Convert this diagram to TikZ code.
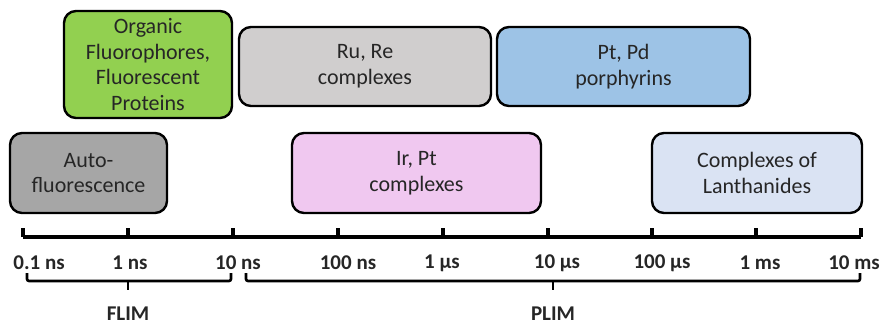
\documentclass[tikz,border=0pt]{standalone}
\usepackage{fontspec}
\setmainfont{Carlito}
\begin{document}
\begin{tikzpicture}[x=1pt,y=-1pt,
  box/.style={draw=black,line width=2.4pt,rounded corners=12pt,align=center,
    font=\fontsize{22}{25.6}\selectfont,text=black!85,inner sep=0pt},
  axis/.style={line width=3.6pt},
  tickmark/.style={line width=3.2pt},
  brace/.style={line width=2.6pt,rounded corners=2pt},
  lbl/.style={font=\fontsize{21}{24}\selectfont\bfseries,text=black!85,inner sep=0pt},
]
\useasboundingbox (0,0) rectangle (884,327);
\definecolor{cgreen}{HTML}{92D050}
\definecolor{cgray}{HTML}{D0CECE}
\definecolor{cblue}{HTML}{9DC3E6}
\definecolor{cdark}{HTML}{A6A6A6}
\definecolor{cpink}{HTML}{F0C8F0}
\definecolor{clan}{HTML}{DAE3F3}

\node[box,fill=cgreen,minimum width=168pt,minimum height=107pt] (org) at (148,64.5) {Organic\\Fluorophores,\\Fluorescent\\Proteins};
\node[box,fill=cgray,minimum width=252pt,minimum height=79pt] (ru) at (365,66.5) {Ru, Re\\complexes};
\node[box,fill=cblue,minimum width=253pt,minimum height=79pt] (pt) at (623.5,66.5) {Pt, Pd\\porphyrins};
\node[box,fill=cdark,minimum width=157pt,minimum height=80pt] (auto) at (88.5,173) {Auto-\\fluorescence};
\node[box,fill=cpink,minimum width=249pt,minimum height=80pt] (ir) at (416.5,173) {Ir, Pt\\complexes};
\node[box,fill=clan,minimum width=210pt,minimum height=80pt] (lan) at (757,173) {Complexes of\\Lanthanides};

% axis
\foreach \i/\x/\lx in {0/23/39,1/128/130,2/233/238,3/338/348,4/443/442,5/548/557,6/652/662,7/756/760,8/861/854}{
  \coordinate (t\i) at (\x,237);
  \coordinate (u\i) at (\x,228);
  \coordinate (v\i) at (\lx,263);
}
\draw[axis] (t0) -- (t8);
\foreach \i in {0,...,8}{ \draw[tickmark] (t\i) -- (u\i); }
\foreach \i/\t in {0/0.1 ns,1/1 ns,2/10 ns,3/100 ns,4/1 µs,5/10 µs,6/100 µs,7/1 ms,8/10 ms}{
  \node[lbl] (l\i) at (v\i) {\t};
}

% braces
\coordinate (fa) at (27,273); \coordinate (fb) at (231,273);
\coordinate (fm) at (128,281); \coordinate (fn) at (128,290);
\draw[brace] (fa) |- (fm) -| (fb);
\draw[brace] (fm) -- (fn);
\node[lbl] (flim) at (128,314) {FLIM};

\coordinate (pa) at (246,273); \coordinate (pb) at (860,273);
\coordinate (pm) at (553,281); \coordinate (pn) at (553,290);
\draw[brace] (pa) |- (pm) -| (pb);
\draw[brace] (pm) -- (pn);
\node[lbl] (plim) at (553,314) {PLIM};
\end{tikzpicture}
\end{document}
